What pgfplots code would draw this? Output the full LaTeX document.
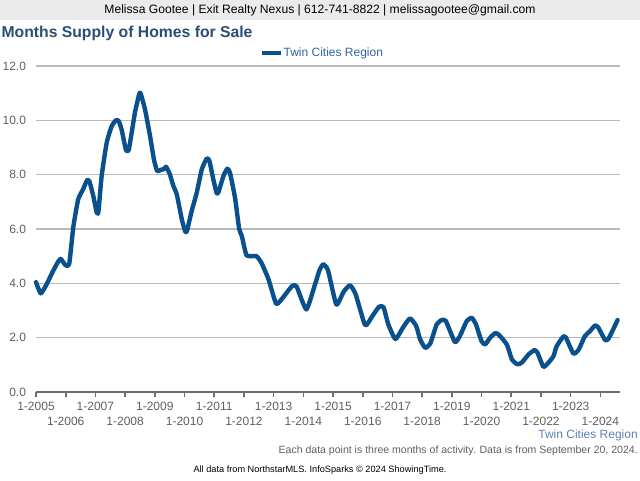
\documentclass[border=0pt]{standalone}
\usepackage{fontspec}
\setmainfont{Liberation Sans}
\usepackage{pgfplots}
\pgfplotsset{compat=1.18}

\definecolor{lineblue}{RGB}{10,80,140}
\definecolor{titleblue}{RGB}{43,77,117}
\definecolor{legblue}{RGB}{50,100,160}
\definecolor{regblue}{RGB}{90,130,180}
\definecolor{bandgray}{RGB}{235,235,235}
\definecolor{gridgray}{RGB}{185,185,185}
\definecolor{axisgray}{RGB}{110,110,110}
\definecolor{labgray}{RGB}{95,95,95}

\begin{document}
\begin{tikzpicture}
\useasboundingbox (0pt,0pt) rectangle (480pt,360pt);
% header band
\fill[bandgray] (0pt,345pt) rectangle (480pt,360pt);
\node[font=\fontsize{9.1}{10}\selectfont] at (240pt,352.5pt)
  {Melissa Gootee | Exit Realty Nexus | 612-741-8822 | melissagootee@gmail.com};
\node[anchor=west,font=\fontsize{11.8}{13}\selectfont\bfseries,text=titleblue,inner sep=0pt]
  at (1pt,335.25pt) {Months Supply of Homes for Sale};
% legend
\draw[lineblue,line width=3pt] (196.5pt,320.25pt) -- (210.75pt,320.25pt);
\node[anchor=west,font=\fontsize{9}{10}\selectfont,text=legblue,inner sep=0pt]
  at (212.5pt,320.25pt) {Twin Cities Region};

\begin{axis}[
  at={(27pt,66pt)}, anchor=south west,
  width=438pt, height=244.5pt, scale only axis,
  xmin=2005, xmax=2024.66, ymin=0, ymax=12,
  axis x line*=bottom, axis y line*=left,
  y axis line style={draw=none},
  x axis line style={axisgray,line width=1.5pt},
  ytick={0,2,...,12},
  ymajorgrids, grid style={gridgray,line width=0.8pt},
  ytick style={draw=none},
  yticklabel style={/pgf/number format/fixed,/pgf/number format/fixed zerofill,
    /pgf/number format/precision=1,text=labgray,font=\fontsize{9}{10}\selectfont},
  xtick={2005,2007,...,2023},
  xticklabels={1-2005,1-2007,1-2009,1-2011,1-2013,1-2015,1-2017,1-2019,1-2021,1-2023},
  extra x ticks={2006,2008,...,2024},
  extra x tick labels={1-2006,1-2008,1-2010,1-2012,1-2014,1-2016,1-2018,1-2020,1-2022,1-2024},
  extra x tick style={tick label style={yshift=-11.5pt}},
  tick align=outside,
  major tick length=4pt,
  xtick style={axisgray,line width=1.2pt},
  xticklabel style={text=labgray,font=\fontsize{9}{10}\selectfont},
  /pgf/number format/assume math mode=true,
  clip=false,
]
\addplot[lineblue,line width=3.3pt,line join=round,line cap=round,smooth,tension=0.3] coordinates {
(2005.00,4.04) (2005.16,3.63) (2005.35,3.95) (2005.55,4.4) (2005.72,4.75)
(2005.83,4.9) (2006.00,4.66) (2006.12,4.73) (2006.26,6.1) (2006.42,7.09)
(2006.58,7.45) (2006.72,7.8) (2006.80,7.75) (2006.93,7.21) (2007.04,6.62)
(2007.10,6.62) (2007.21,7.95) (2007.38,9.18) (2007.55,9.79) (2007.69,10.0)
(2007.78,9.98) (2007.88,9.67) (2008.03,8.9) (2008.12,8.9) (2008.20,9.4)
(2008.33,10.28) (2008.47,10.95) (2008.52,11.0) (2008.67,10.4) (2008.84,9.42)
(2008.97,8.56) (2009.08,8.13) (2009.20,8.18) (2009.30,8.2) (2009.38,8.29)
(2009.51,8.0) (2009.62,7.6) (2009.74,7.27) (2009.91,6.35) (2010.02,5.92)
(2010.08,5.92) (2010.24,6.66) (2010.41,7.33) (2010.58,8.19) (2010.75,8.6)
(2010.84,8.5) (2010.97,7.82) (2011.08,7.33) (2011.14,7.35) (2011.31,7.95)
(2011.44,8.22) (2011.53,8.07) (2011.70,7.15) (2011.84,6.0) (2011.93,5.74)
(2012.09,5.03) (2012.42,5.0) (2012.60,4.73) (2012.83,4.14) (2013.09,3.24)
(2013.35,3.53) (2013.62,3.9) (2013.77,3.89) (2014.10,3.04) (2014.39,3.95)
(2014.55,4.5) (2014.67,4.7) (2014.83,4.48) (2015.11,3.22) (2015.35,3.68)
(2015.57,3.93) (2015.76,3.6) (2016.08,2.46) (2016.32,2.79) (2016.55,3.14)
(2016.70,3.12) (2016.86,2.49) (2017.10,1.95) (2017.37,2.4) (2017.59,2.71)
(2017.80,2.43) (2017.93,1.94) (2018.10,1.63) (2018.27,1.78) (2018.49,2.49)
(2018.66,2.65) (2018.80,2.61) (2019.10,1.84) (2019.27,2.06) (2019.50,2.61)
(2019.67,2.73) (2019.81,2.49) (2020.00,1.87) (2020.12,1.75) (2020.29,2.0)
(2020.45,2.16) (2020.57,2.12) (2020.85,1.75) (2021.02,1.2) (2021.20,1.02)
(2021.35,1.08) (2021.58,1.38) (2021.78,1.54) (2021.88,1.45) (2022.08,0.93)
(2022.25,1.08) (2022.42,1.32) (2022.53,1.69) (2022.75,2.04) (2022.84,2.0)
(2023.09,1.42) (2023.26,1.54) (2023.48,2.06) (2023.65,2.24) (2023.82,2.45)
(2023.93,2.37) (2024.16,1.91) (2024.27,1.96) (2024.42,2.28) (2024.58,2.65)
};
\end{axis}

% footer texts
\node[anchor=east,font=\fontsize{9}{10}\selectfont,text=regblue,inner sep=0pt]
  at (478.5pt,33.75pt) {Twin Cities Region};
\node[anchor=east,font=\fontsize{7.9}{9}\selectfont,text=labgray,inner sep=0pt]
  at (478.5pt,21.75pt) {Each data point is three months of activity. Data is from September 20, 2024.};
\node[font=\fontsize{6.9}{8}\selectfont,inner sep=0pt]
  at (240pt,7.5pt) {All data from NorthstarMLS. InfoSparks © 2024 ShowingTime.};
\end{tikzpicture}
\end{document}
